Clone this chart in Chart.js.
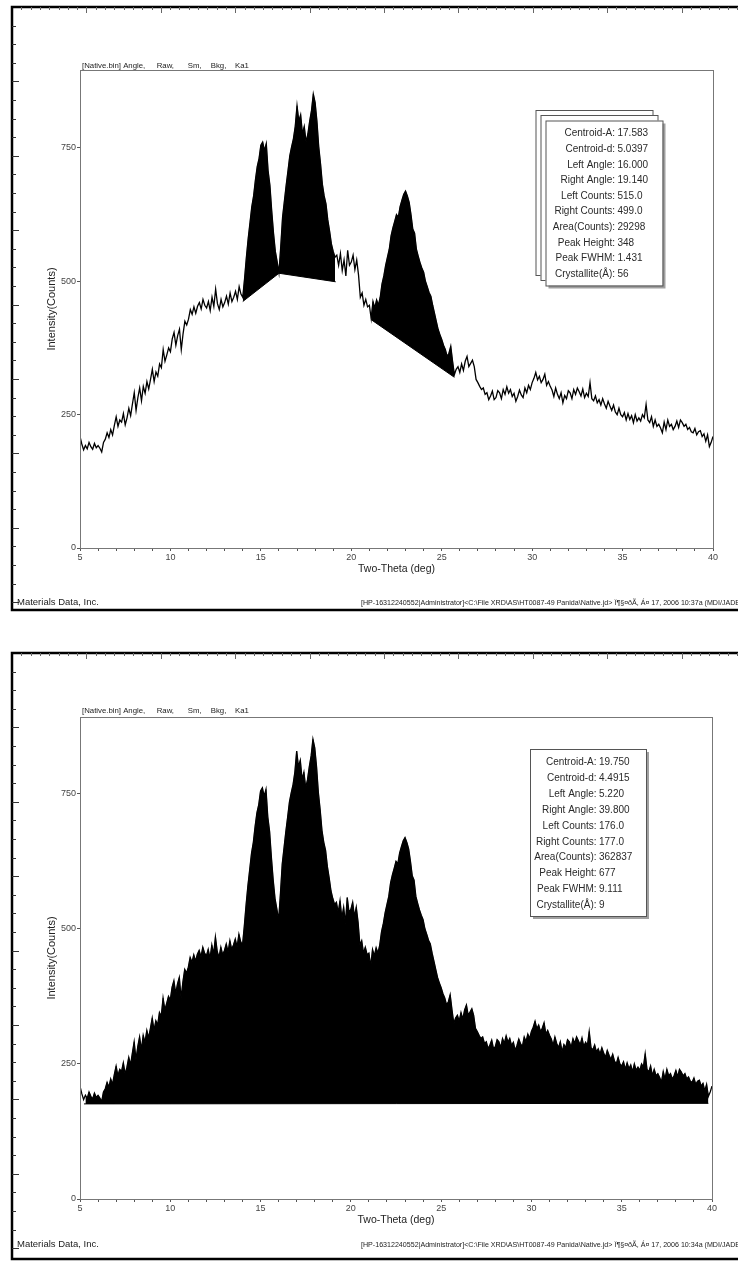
<!DOCTYPE html>
<html lang="en">
<head>
  <meta charset="UTF-8">
  <title>XRD - Native.bin peak areas</title>
  <script src="https://cdn.jsdelivr.net/npm/chart.js"></script>
  <style>
    body {
      margin: 0;
      background: #fff;
      width: 738px;
      height: 1261px;
      position: relative;
      overflow: hidden;
    }
    canvas {
      position: absolute;
      left: 0;
    }
    #topChart { top: 0; }
    #bottomChart { top: 615px; }
  </style>
</head>
<body>

  <canvas id="topChart" width="738" height="615"></canvas>
  <canvas id="bottomChart" width="738" height="646"></canvas>

  <script>
    // scan: 5 - 40 deg two-theta, one reading per 0.1 deg
    const scanStart = 5.0;
    const scanStep = 0.1;
    const counts = [
      209, 195, 184, 192, 186, 198, 190, 185, 196, 188,
      192, 187, 180, 198, 204, 216, 207, 222, 212, 230,
      246, 228, 240, 236, 252, 231, 244, 262, 248, 270,
      291, 258, 282, 300, 276, 303, 290, 312, 298, 316,
      335, 312, 330, 322, 345, 338, 372, 350, 362, 375,
      368, 392, 404, 380, 398, 410, 372, 402, 425, 418,
      429, 447, 438, 452, 440, 453, 460, 448, 466, 455,
      450, 462, 445, 470, 453, 485, 458, 447, 466, 452,
      460, 472, 457, 478, 462, 470, 481, 466, 490, 476,
      470, 505, 545, 580, 610, 640, 660, 690, 715, 730,
      755, 761, 745, 758, 707, 680, 632, 590, 556, 537,
      516, 565, 620, 650, 680, 707, 735, 752, 767, 790,
      829, 800, 812, 776, 790, 761, 776, 800, 820, 851,
      835, 800, 752, 720, 682, 660, 645, 615, 594, 570,
      556, 545, 549, 530, 552, 520, 540, 510, 558, 530,
      536, 549, 522, 540, 512, 470, 478, 455, 466, 452,
      455, 430, 462, 450, 465, 455, 470, 495, 510, 530,
      545, 560, 585, 600, 612, 625, 620, 640, 652, 663,
      669, 660, 648, 625, 598, 590, 560, 547, 535, 525,
      517, 500, 490, 479, 472, 455, 440, 425, 410, 400,
      391, 380, 372, 359, 365, 378, 350, 325, 335, 340,
      329, 345, 333, 350, 359, 340, 346, 352, 340, 316,
      310, 303, 297, 300, 288, 291, 278, 285, 294, 278,
      282, 295, 291, 280, 297, 288, 302, 290, 297, 284,
      290, 275, 284, 296, 287, 282, 300, 291, 305, 297,
      310, 318, 329, 315, 322, 310, 316, 326, 305, 312,
      303, 296, 284, 300, 288, 280, 291, 272, 286, 280,
      295, 291, 280, 297, 288, 300, 293, 285, 298, 282,
      290, 284, 310, 280, 276, 285, 272, 278, 268, 280,
      270, 262, 275, 266, 258, 268, 255, 250, 262, 250,
      246, 254, 240, 252, 241, 248, 235, 250, 238, 244,
      238, 250, 244, 269, 240, 235, 246, 228, 240, 228,
      232, 225, 216, 236, 222, 240, 228, 232, 222, 228,
      238, 226, 240, 235, 228, 232, 222, 226, 218, 216,
      224, 212, 218, 220, 209, 214, 200, 212, 190, 198,
      209
    ];

    // peak areas of the upper pattern (background line left -> right)
    const peakLeftAngles = [14.0, 16.0, 21.1];
    const peakRightAngles = [16.0, 19.14, 25.7];
    const peakLeftCounts = [462, 515, 428];
    const peakRightCounts = [515, 499, 320];

    // whole-pattern area of the lower pattern
    const totalLeftAngles = [5.22];
    const totalRightAngles = [39.8];
    const totalLeftCounts = [176];
    const totalRightCounts = [177];

    const xTicks = [5, 10, 15, 20, 25, 30, 35, 40];
    const yTicks = [0, 250, 500, 750];

    const infoLabels = ['Centroid-A:', 'Centroid-d:', 'Left Angle:', 'Right Angle:', 'Left Counts:',
      'Right Counts:', 'Area(Counts):', 'Peak Height:', 'Peak FWHM:', 'Crystallite(Å):'];
    const infoTop = ['17.583', '5.0397', '16.000', '19.140', '515.0', '499.0', '29298', '348', '1.431', '56'];
    const infoBottom = ['19.750', '4.4915', '5.220', '39.800', '176.0', '177.0', '362837', '677', '9.111', '9'];

    const headerParts = ['[Native.bin] Angle,', 'Raw,', 'Sm,', 'Bkg,', 'Ka1'];
    const footerLeft = 'Materials Data, Inc.';
    const footerTop = '[HP-16312240552|Administrator]<C:\\File XRD\\AS\\HT0087-49 Panida\\Native.jd> Ï¶§¤ðÃ, Á¤ 17, 2006 10:37a (MDI/JADE7)';
    const footerBottom = '[HP-16312240552|Administrator]<C:\\File XRD\\AS\\HT0087-49 Panida\\Native.jd> Ï¶§¤ðÃ, Á¤ 17, 2006 10:34a (MDI/JADE7)';

    Chart.defaults.font.family = '"Liberation Sans", Arial, sans-serif';

    const angles = counts.map((c, i) => +(scanStart + i * scanStep).toFixed(2));
    const points = angles.map((a, i) => ({ x: a, y: counts[i] }));

    function between(from, to) {
      return points.filter(p => p.x >= from - 1e-6 && p.x <= to + 1e-6);
    }

    // main trace + one filled area per region, filled down to its straight background
    function buildDatasets(lefts, rights, lCounts, rCounts) {
      const sets = [{
        data: points,
        borderColor: '#000',
        borderWidth: 1.3,
        pointRadius: 0,
        fill: false,
        tension: 0
      }];
      lefts.forEach((l, k) => {
        const baseIndex = sets.length + 1;
        sets.push({
          data: between(l, rights[k]),
          borderColor: '#000',
          borderWidth: 0.5,
          backgroundColor: '#000',
          pointRadius: 0,
          fill: { target: baseIndex, above: '#000', below: '#000' }
        });
        sets.push({
          data: [{ x: l, y: lCounts[k] }, { x: rights[k], y: rCounts[k] }],
          borderColor: '#000',
          borderWidth: 1,
          pointRadius: 0,
          fill: false
        });
      });
      return sets;
    }

    function line(ctx, x1, y1, x2, y2) {
      ctx.beginPath();
      ctx.moveTo(x1, y1);
      ctx.lineTo(x2, y2);
      ctx.stroke();
    }

    const decor = {
      id: 'decor',
      afterDraw(chart, args, o) {
        const ctx = chart.ctx;
        const a = chart.chartArea;
        const W = chart.width;
        ctx.save();

        // plot box
        ctx.strokeStyle = '#777';
        ctx.lineWidth = 1;
        ctx.strokeRect(Math.round(a.left) + 0.5, Math.round(a.top) + 0.5,
          Math.round(a.right - a.left), Math.round(a.bottom - a.top));

        // page frame with ruler marks
        ctx.strokeStyle = '#000';
        ctx.lineWidth = 2.5;
        ctx.beginPath();
        ctx.moveTo(W + 5, o.frameTop);
        ctx.lineTo(o.frameLeft, o.frameTop);
        ctx.lineTo(o.frameLeft, o.frameBottom);
        ctx.lineTo(W + 5, o.frameBottom);
        ctx.stroke();
        ctx.lineWidth = 1;
        ctx.strokeStyle = '#333';
        for (let i = 1, y = o.frameTop + 18.6; y < o.frameBottom - 6; i++, y += 18.6) {
          const len = i % 4 === 0 ? 7 : 4;
          line(ctx, o.frameLeft, Math.round(y) + 0.5, o.frameLeft + len, Math.round(y) + 0.5);
        }
        ctx.strokeStyle = '#666';
        for (let i = 1, x = o.frameLeft + 9.3; x < W; i++, x += 9.3) {
          const len = i % 8 === 0 ? 6 : 3;
          line(ctx, Math.round(x) + 0.5, o.frameTop, Math.round(x) + 0.5, o.frameTop + len);
        }

        // header above plot
        ctx.fillStyle = '#222';
        ctx.font = '7.8px "Liberation Sans", Arial, sans-serif';
        ctx.textBaseline = 'middle';
        ctx.textAlign = 'left';
        headerParts.forEach((t, i) => ctx.fillText(t, o.headerX[i], o.headerY));

        // footers
        ctx.font = '9.5px "Liberation Sans", Arial, sans-serif';
        ctx.fillText(footerLeft, o.frameLeft + 5, o.footerY);
        ctx.font = '6px "Liberation Sans", Arial, sans-serif';
        const w6 = ctx.measureText(o.footerText.slice(0, o.footerText.indexOf('(MDI'))).width;
        const size = 6 * o.footerFit / w6;
        ctx.font = size.toFixed(2) + 'px "Liberation Sans", Arial, sans-serif';
        ctx.fillText(o.footerText, o.footerX, o.footerY + 1);

        // peak report boxes
        o.boxes.forEach((b, i) => {
          const last = i === o.boxes.length - 1;
          if (last) {
            ctx.fillStyle = '#a0a0a0';
            ctx.fillRect(b.x + 3, b.y + 3, b.w, b.h);
          }
          ctx.fillStyle = '#fff';
          ctx.fillRect(b.x, b.y, b.w, b.h);
          ctx.strokeStyle = '#555';
          ctx.strokeRect(b.x + 0.5, b.y + 0.5, b.w, b.h);
        });
        ctx.fillStyle = '#2a2a2a';
        ctx.font = '10px "Liberation Sans", Arial, sans-serif';
        infoLabels.forEach((lab, i) => {
          const y = o.textY + i * o.textStep;
          ctx.textAlign = 'right';
          ctx.fillText(lab, o.labelX, y);
          ctx.textAlign = 'left';
          ctx.fillText(o.values[i], o.labelX + 2.5, y);
        });
        ctx.restore();
      }
    };

    function makeChart(id, datasets, yMax, padding, decorOpts) {
      return new Chart(document.getElementById(id), {
        type: 'line',
        data: { datasets },
        plugins: [decor],
        options: {
          responsive: false,
          animation: false,
          devicePixelRatio: 1,
          events: [],
          layout: { padding },
          plugins: {
            legend: { display: false },
            tooltip: { enabled: false },
            decor: decorOpts
          },
          scales: {
            x: {
              type: 'linear',
              min: xTicks[0],
              max: xTicks[xTicks.length - 1],
              ticks: {
                stepSize: 1,
                autoSkip: false,
                maxRotation: 0,
                padding: 1,
                color: '#444',
                font: { size: 9 },
                callback: v => xTicks.includes(v) ? String(v) : ''
              },
              grid: { drawOnChartArea: false, tickLength: 3, color: '#555' },
              border: { color: '#777' },
              title: {
                display: true,
                text: 'Two-Theta (deg)',
                color: '#222',
                font: { size: 10.5 },
                padding: { top: 0, bottom: 3 }
              },
              afterFit: s => { s.height = 30; }
            },
            y: {
              min: 0,
              max: yMax,
              afterBuildTicks: s => { s.ticks = yTicks.map(v => ({ value: v })); },
              ticks: { padding: 1, color: '#444', font: { size: 9 } },
              grid: { drawOnChartArea: false, tickLength: 3, color: '#555' },
              border: { color: '#777' },
              title: {
                display: true,
                text: 'Intensity(Counts)',
                color: '#222',
                font: { size: 11 },
                padding: { top: 45, bottom: 0 }
              },
              afterFit: s => { s.width = 80; }
            }
          }
        }
      });
    }

    makeChart('topChart',
      buildDatasets(peakLeftAngles, peakRightAngles, peakLeftCounts, peakRightCounts),
      896,
      { left: 0, top: 70, right: 25, bottom: 37 },
      {
        frameLeft: 12, frameTop: 7, frameBottom: 610,
        headerX: [82, 156.7, 187.7, 210.7, 235], headerY: 65.5,
        footerY: 602, footerX: 361, footerFit: 344, footerText: footerTop,
        boxes: [
          { x: 535.5, y: 110, w: 117, h: 165 },
          { x: 540.5, y: 115, w: 117, h: 165 },
          { x: 545.5, y: 120.5, w: 117, h: 165 }
        ],
        textY: 133.5, textStep: 15.63, labelX: 615, values: infoTop
      });

    makeChart('bottomChart',
      buildDatasets(totalLeftAngles, totalRightAngles, totalLeftCounts, totalRightCounts),
      892,
      { left: 0, top: 102, right: 26, bottom: 32 },
      {
        frameLeft: 12, frameTop: 38, frameBottom: 644,
        headerX: [82, 156.7, 187.7, 210.7, 235], headerY: 95.5,
        footerY: 629, footerX: 361, footerFit: 344, footerText: footerBottom,
        boxes: [
          { x: 530, y: 134, w: 116, h: 167 }
        ],
        textY: 147.5, textStep: 15.85, labelX: 596.5, values: infoBottom
      });
  </script>

</body>
</html>
